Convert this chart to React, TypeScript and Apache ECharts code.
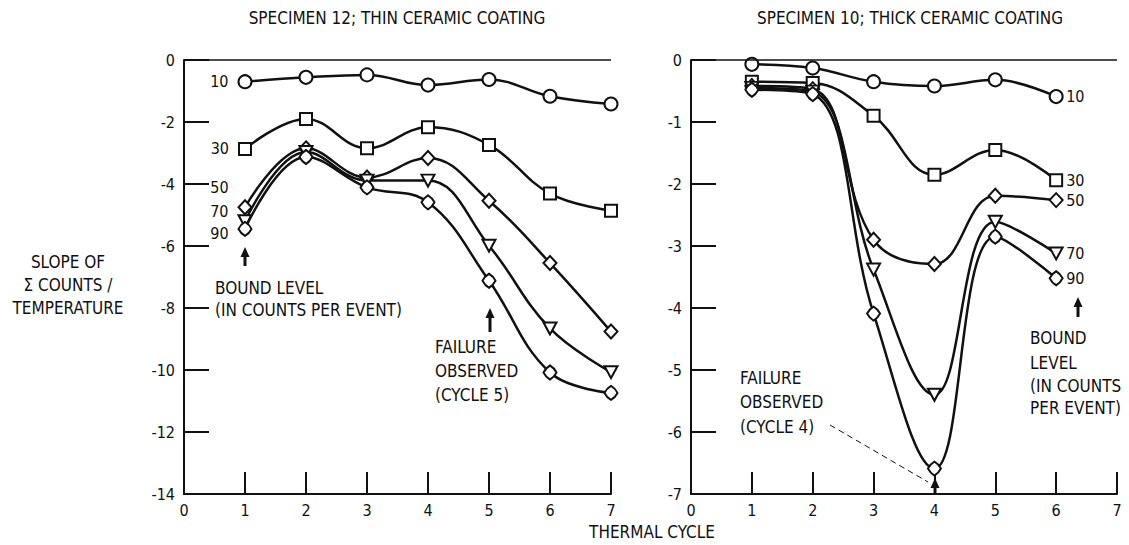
import React, { useEffect, useRef } from "react";
import * as echarts from "echarts";

// ---- data ----
const cyclesLeft = [1, 2, 3, 4, 5, 6, 7];
const cyclesRight = [1, 2, 3, 4, 5, 6];
const boundLevels = ["10", "30", "50", "70", "90"];

const left10 = [-0.7, -0.56, -0.48, -0.81, -0.63, -1.17, -1.42];
const left30 = [-2.87, -1.9, -2.85, -2.17, -2.74, -4.31, -4.86];
const left50 = [-4.75, -2.85, -3.79, -3.16, -4.54, -6.55, -8.76];
const left70 = [-5.2, -2.97, -3.89, -3.89, -5.99, -8.66, -10.07];
const left90 = [-5.45, -3.13, -4.11, -4.59, -7.12, -10.08, -10.74];

const right10 = [-0.07, -0.13, -0.35, -0.42, -0.32, -0.59];
const right30 = [-0.35, -0.37, -0.9, -1.85, -1.45, -1.94];
const right50 = [-0.42, -0.47, -2.9, -3.29, -2.19, -2.26];
const right70 = [-0.45, -0.51, -3.38, -5.4, -2.61, -3.12];
const right90 = [-0.48, -0.55, -4.09, -6.59, -2.85, -3.52];

const xTicksMax = 7;
const leftYMin = -14;
const rightYMin = -7;
const frameTopValue = 0;

const FONT = "'DejaVu Sans Condensed', 'Liberation Sans Narrow', 'DejaVu Sans', sans-serif";
const INK = "#111";

const roundedDiamond =
  "path://M10 0 Q16.5 3.5 20 10 Q16.5 16.5 10 20 Q3.5 16.5 0 10 Q3.5 3.5 10 0 Z";

const symbols: any[] = [
  { symbol: "circle", size: 13, rotate: 0 },
  { symbol: "rect", size: 12, rotate: 0 },
  { symbol: "diamond", size: [13, 14], rotate: 0 },
  { symbol: "triangle", size: [13, 12], rotate: 180 },
  { symbol: roundedDiamond, size: [13, 14], rotate: 0 },
];

const leftLabelOffsets = [[0, 0], [0, 0], [0, -20], [0, -10], [0, 5]];

function makeSeries(xs: number[], values: number[][], axisIndex: number, side: string) {
  return values.map((vals, i) => {
    const sym = symbols[i];
    const data = xs.map((x, k) => {
      const item: any = { value: [x, vals[k]] };
      if (side === "left" && k === 0) {
        item.label = {
          show: true,
          position: "left",
          distance: 9,
          offset: leftLabelOffsets[i],
          formatter: boundLevels[i],
          color: INK,
          fontFamily: FONT,
          fontSize: 16,
        };
      }
      return item;
    });
    const s: any = {
      type: "line",
      name: (side === "left" ? "Specimen 12 " : "Specimen 10 ") + boundLevels[i],
      xAxisIndex: axisIndex,
      yAxisIndex: axisIndex,
      data,
      smooth: 0.4,
      symbol: sym.symbol,
      symbolSize: sym.size,
      symbolRotate: sym.rotate,
      showAllSymbol: true,
      lineStyle: { color: INK, width: 2.5 },
      itemStyle: { color: "#fff", borderColor: INK, borderWidth: 2 },
      z: 3 + i,
    };
    if (i === 0) {
      s.markLine = {
        silent: true,
        symbol: "none",
        label: { show: false },
        lineStyle: { color: INK, width: 1.5, type: "solid" },
        data: [{ yAxis: frameTopValue }],
      };
    }
    if (side === "right") {
      s.endLabel = {
        show: true,
        formatter: boundLevels[i],
        distance: 10,
        color: INK,
        fontFamily: FONT,
        fontSize: 16,
      };
    }
    return s;
  });
}

function arrowUp(x: number, yBottom: number, yTop: number) {
  return [
    {
      type: "line",
      shape: { x1: x, y1: yBottom, x2: x, y2: yTop + 8 },
      style: { stroke: INK, lineWidth: 3 },
    },
    {
      type: "polygon",
      shape: { points: [[x, yTop], [x - 4.5, yTop + 10], [x + 4.5, yTop + 10]] },
      style: { fill: INK },
    },
  ];
}

function txt(text: string, x: number, y: number, align: string = "left", size = 17) {
  return {
    type: "text",
    x,
    y,
    style: {
      text,
      fill: INK,
      font: `${size}px ${FONT}`,
      textAlign: align,
      textVerticalAlign: "middle",
    },
  };
}

function makeX(gridIndex: number) {
  return {
    type: "value",
    gridIndex,
    min: 0,
    max: xTicksMax,
    interval: 1,
    axisLine: { show: true, onZero: false, lineStyle: { color: INK, width: 2 } },
    axisTick: { show: true, inside: true, length: 22, lineStyle: { color: INK, width: 2 } },
    axisLabel: { color: INK, fontFamily: FONT, fontSize: 16, margin: 8 },
    splitLine: { show: false },
  };
}

function makeY(gridIndex: number, min: number, interval: number) {
  return {
    type: "value",
    gridIndex,
    min,
    max: 0,
    interval,
    axisLine: { show: true, onZero: false, lineStyle: { color: INK, width: 2 } },
    axisTick: { show: true, inside: true, length: 25, lineStyle: { color: INK, width: 2 } },
    axisLabel: { color: INK, fontFamily: FONT, fontSize: 16, margin: 9 },
    splitLine: { show: false },
  };
}

export default function App() {
  const ref = useRef<HTMLDivElement>(null);
  useEffect(() => {
    if (!ref.current) return;
    const chart = echarts.init(ref.current, undefined, { renderer: "svg" });

    const series = [
      ...makeSeries(cyclesLeft, [left10, left30, left50, left70, left90], 0, "left"),
      ...makeSeries(cyclesRight, [right10, right30, right50, right70, right90], 1, "right"),
    ];

    chart.setOption({
      animation: false,
      grid: [
        { left: 184, top: 60, width: 427, height: 434 },
        { left: 691, top: 60, width: 426, height: 434 },
      ],
      xAxis: [makeX(0), makeX(1)],
      yAxis: [makeY(0, leftYMin, 2), makeY(1, rightYMin, 1)],
      series,
      graphic: [
        txt("SPECIMEN 12; THIN CERAMIC COATING", 397, 18, "center", 17),
        txt("SPECIMEN 10; THICK CERAMIC COATING", 910, 18, "center", 17),
        txt("SLOPE OF", 68, 262, "center", 17),
        txt("Σ COUNTS /", 68, 285, "center", 17),
        txt("TEMPERATURE", 68, 308, "center", 17),
        txt("THERMAL CYCLE", 652, 532, "center", 17),
        ...arrowUp(245, 266, 247),
        txt("BOUND LEVEL", 215, 288),
        txt("(IN COUNTS PER EVENT)", 215, 310),
        ...arrowUp(490, 332, 308),
        txt("FAILURE", 435, 347),
        txt("OBSERVED", 435, 371),
        txt("(CYCLE 5)", 435, 395),
        ...arrowUp(1078, 317, 297),
        txt("BOUND", 1030, 338),
        txt("LEVEL", 1030, 363),
        txt("(IN COUNTS", 1030, 386),
        txt("PER EVENT)", 1030, 408),
        txt("FAILURE", 740, 378),
        txt("OBSERVED", 740, 402),
        txt("(CYCLE 4)", 740, 427),
        {
          type: "line",
          shape: { x1: 830, y1: 425, x2: 928, y2: 482 },
          style: { stroke: INK, lineWidth: 1, lineDash: [6, 4] },
        },
        ...arrowUp(935, 494, 478),
      ],
    });
    return () => chart.dispose();
  }, []);
  return (
    <div
      ref={ref}
      style={{ position: "absolute", left: 0, top: 0, width: 1129, height: 545, background: "#fff" }}
    />
  );
}
